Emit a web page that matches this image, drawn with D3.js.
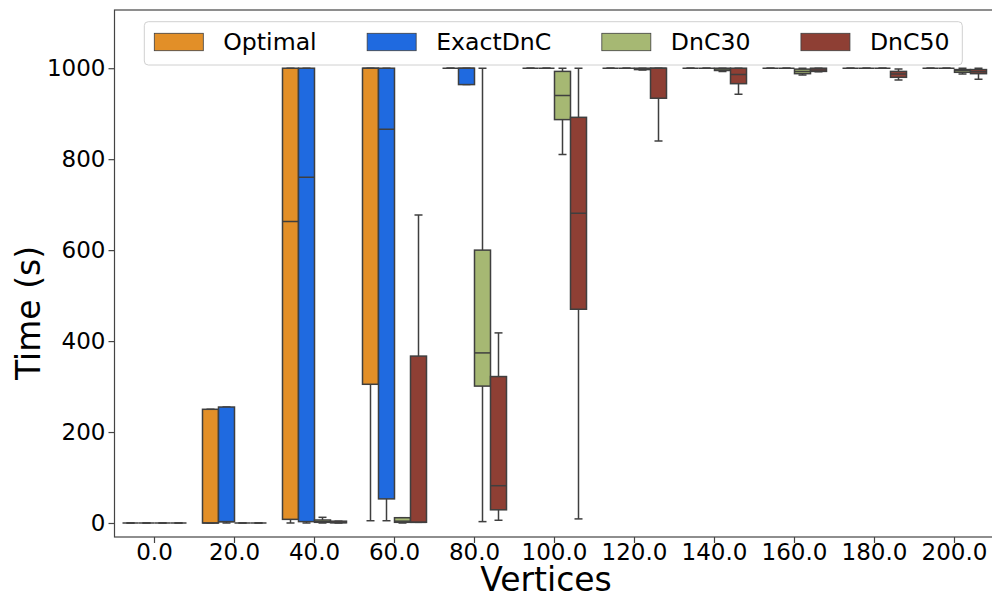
<!DOCTYPE html>
<html>
<head>
<meta charset="utf-8">
<script src="https://cdn.jsdelivr.net/npm/d3@7"></script>
<style>
  html, body { margin: 0; padding: 0; background: #fff; }
  svg { display: block; font-family: "DejaVu Sans", sans-serif; }
</style>
</head>
<body>
<svg id="chart" width="992" height="600"></svg>
<script>
// ---- data (five-number summaries: [whisker low, q1, median, q3, whisker high]) ----
const categories = ["0.0", "20.0", "40.0", "60.0", "80.0", "100.0", "120.0", "140.0", "160.0", "180.0", "200.0"];
const seriesNames = ["Optimal", "ExactDnC", "DnC30", "DnC50"];
const seriesColors = ["#e28f28", "#1f6ae0", "#a6b873", "#8e3f34"];
const yTicks = [0, 200, 400, 600, 800, 1000];

const optimal = [
  [0, 0, 0, 0, 0],
  [0, 0, 0, 250, 250],
  [0, 8, 663, 1000, 1000],
  [5, 305, 1000, 1000, 1000],
  [1000, 1000, 1000, 1000, 1000],
  [1000, 1000, 1000, 1000, 1000],
  [1000, 1000, 1000, 1000, 1000],
  [1000, 1000, 1000, 1000, 1000],
  [1000, 1000, 1000, 1000, 1000],
  [1000, 1000, 1000, 1000, 1000],
  [1000, 1000, 1000, 1000, 1000]
];
const exactDnC = [
  [0, 0, 0, 0, 0],
  [0, 3, 3, 255, 255],
  [0, 3, 760, 1000, 1000],
  [5, 53, 866, 1000, 1000],
  [964, 964, 1000, 1000, 1000],
  [1000, 1000, 1000, 1000, 1000],
  [1000, 1000, 1000, 1000, 1000],
  [1000, 1000, 1000, 1000, 1000],
  [1000, 1000, 1000, 1000, 1000],
  [1000, 1000, 1000, 1000, 1000],
  [1000, 1000, 1000, 1000, 1000]
];
const dnc30 = [
  [0, 0, 0, 0, 0],
  [0, 0, 0, 0, 0],
  [0, 1.5, 3, 6.6, 12.5],
  [0, 1.5, 4, 11.6, 11.6],
  [3, 301, 374, 600, 1000],
  [810, 887, 940, 993, 1000],
  [996, 997, 999, 1000, 1000],
  [993, 995, 998, 1000, 1000],
  [985, 988, 993, 998, 1000],
  [1000, 1000, 1000, 1000, 1000],
  [987, 991, 995, 997, 1000]
];
const dnc50 = [
  [0, 0, 0, 0, 0],
  [0, 0, 0, 0, 0],
  [0, 0.5, 1, 4, 4],
  [1.5, 1.5, 1.5, 367, 677],
  [6, 29, 82, 322, 418],
  [9, 470, 681, 892, 1000],
  [840, 934, 1000, 1000, 1000],
  [943, 966, 986, 1000, 1000],
  [992, 993, 996, 1000, 1000],
  [974, 980, 987, 993, 998],
  [976, 988, 992, 997, 1000]
];
const seriesValues = [optimal, exactDnC, dnc30, dnc50];

// ---- layout ----
const svg = d3.select("#chart");
const margin = { left: 114.5, top: 10, bottom: 537 };
const plotRight = 994.5;
const lineColor = "#3f3f3f";
const spineColor = "#444";

const x0 = d3.scaleBand().domain(categories).range([margin.left, plotRight]).padding(0);
const x1 = d3.scaleBand().domain(seriesNames)
  .range([x0.bandwidth() * 0.1, x0.bandwidth() * 0.9]).padding(0);
const y = d3.scaleLinear().domain([-30.8, 1128]).range([margin.bottom, margin.top]);

svg.append("defs").append("clipPath").attr("id", "clip")
  .append("rect").attr("x", margin.left).attr("y", margin.top)
  .attr("width", plotRight - margin.left).attr("height", margin.bottom - margin.top);

const plot = svg.append("g").attr("clip-path", "url(#clip)");

seriesNames.forEach((name, si) => {
  const g = plot.append("g").attr("class", "series");
  const values = seriesValues[si];
  categories.forEach((cat, ci) => {
    const [lo, q1, med, q3, hi] = values[ci];
    const bx = x0(cat) + x1(name);
    const bw = x1.bandwidth();
    const cx = bx + bw / 2;
    const capW = bw / 2;
    g.append("line").attr("x1", cx).attr("x2", cx).attr("y1", y(q3)).attr("y2", y(hi))
      .attr("stroke", lineColor).attr("stroke-width", 1.5);
    g.append("line").attr("x1", cx).attr("x2", cx).attr("y1", y(q1)).attr("y2", y(lo))
      .attr("stroke", lineColor).attr("stroke-width", 1.5);
    g.append("line").attr("x1", cx - capW / 2).attr("x2", cx + capW / 2).attr("y1", y(hi)).attr("y2", y(hi))
      .attr("stroke", lineColor).attr("stroke-width", 1.5);
    g.append("line").attr("x1", cx - capW / 2).attr("x2", cx + capW / 2).attr("y1", y(lo)).attr("y2", y(lo))
      .attr("stroke", lineColor).attr("stroke-width", 1.5);
    g.append("rect").attr("x", bx).attr("width", bw)
      .attr("y", y(q3)).attr("height", Math.max(0, y(q1) - y(q3)))
      .attr("fill", seriesColors[si]).attr("stroke", lineColor).attr("stroke-width", 1.5);
    g.append("line").attr("x1", bx).attr("x2", bx + bw).attr("y1", y(med)).attr("y2", y(med))
      .attr("stroke", lineColor).attr("stroke-width", 1.5);
  });
});

// ---- axes ----
const yAxis = d3.axisLeft(y).tickValues(yTicks).tickSize(6).tickPadding(3).tickFormat(d3.format("d"));
const yg = svg.append("g").attr("transform", `translate(${margin.left},0)`).call(yAxis);
yg.select(".domain").remove();
yg.selectAll(".tick line").attr("stroke", spineColor).attr("stroke-width", 1.2);
yg.selectAll(".tick text").attr("font-size", 23).attr("fill", "#000")
  .attr("font-family", "DejaVu Sans");

const xAxis = d3.axisBottom(x0).tickSize(6).tickPadding(1);
const xg = svg.append("g").attr("transform", `translate(0,${margin.bottom})`).call(xAxis);
xg.select(".domain").remove();
xg.selectAll(".tick line").attr("stroke", spineColor).attr("stroke-width", 1.2);
xg.selectAll(".tick text").attr("font-size", 23).attr("fill", "#000")
  .attr("font-family", "DejaVu Sans");

svg.append("rect").attr("x", margin.left).attr("y", margin.top)
  .attr("width", plotRight - margin.left).attr("height", margin.bottom - margin.top)
  .attr("fill", "none").attr("stroke", spineColor).attr("stroke-width", 1.2);

// axis labels
svg.append("text").attr("x", 546).attr("y", 591)
  .attr("text-anchor", "middle").attr("font-size", 33).attr("fill", "#000").text("Vertices");
svg.append("text").attr("transform", `translate(40,313) rotate(-90)`)
  .attr("text-anchor", "middle").attr("font-size", 33).attr("fill", "#000").text("Time (s)");

// ---- legend ----
const legend = svg.append("g").attr("class", "legend");
legend.append("rect").attr("x", 144.3).attr("y", 21.7)
  .attr("width", 962.3 - 144.3).attr("height", 65 - 21.7).attr("rx", 4)
  .attr("fill", "#fff").attr("fill-opacity", 0.8).attr("stroke", "#d0d0d0").attr("stroke-width", 1);
let lx = 154.3;
seriesNames.forEach((name, si) => {
  legend.append("rect").attr("x", lx).attr("y", 33.3).attr("width", 49).attr("height", 17.4)
    .attr("fill", seriesColors[si]).attr("stroke", lineColor).attr("stroke-width", 0.8);
  const t = legend.append("text").attr("x", lx + 69).attr("y", 50)
    .attr("font-size", 23.6).attr("fill", "#000").text(name);
  lx = lx + 69 + t.node().getComputedTextLength() + 50.5;
});
</script>
</body>
</html>
